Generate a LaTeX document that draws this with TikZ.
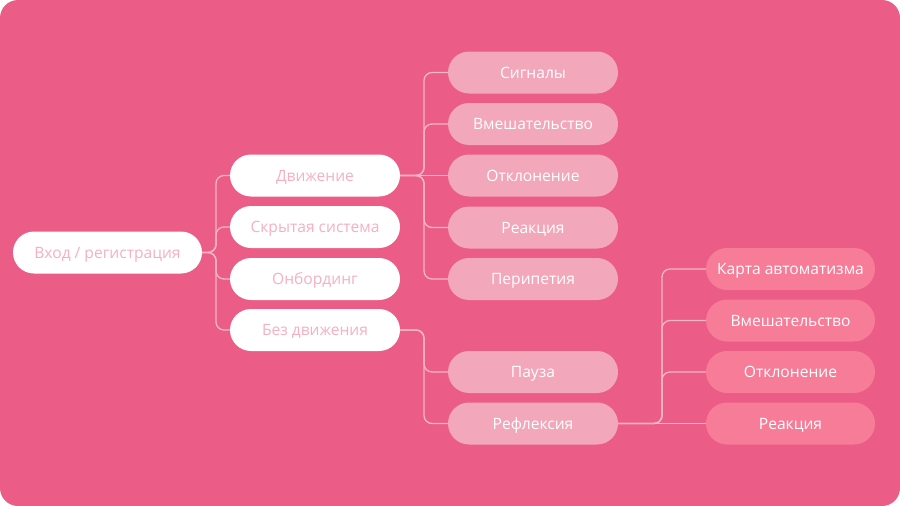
\documentclass[tikz,border=0pt]{standalone}
\usepackage{fontspec}
\setmainfont{Open Sans}
\definecolor{bgpink}{HTML}{EB5C86}
\definecolor{lvtwo}{HTML}{F2A8BA}
\definecolor{lvthree}{HTML}{F77C98}
\definecolor{softtext}{HTML}{F6B0C2}
\definecolor{linecol}{HTML}{F5B6C5}
\tikzset{
  pill/.style={rounded corners=21pt, minimum height=42pt, inner sep=0pt, text height=11.1pt, text depth=0pt, font=\fontsize{15.6}{18}\selectfont},
  whitepill/.style={pill, fill=white, text=softtext, minimum width=170pt},
  rootpill/.style={pill, fill=white, text=softtext, minimum width=189pt},
  secondpill/.style={pill, fill=lvtwo, text=white, minimum width=170pt},
  thirdpill/.style={pill, fill=lvthree, text=white, minimum width=169pt},
  link/.style={draw=linecol, line width=1.3pt, rounded corners=8pt}
}
\begin{document}
\begin{tikzpicture}[x=1pt,y=-1pt]
\useasboundingbox (0,0) rectangle (900,506);
\fill[bgpink, rounded corners=18pt] (0,0) rectangle (900,506);

\node[rootpill] (root) at (107.5,252.5) {Вход / регистрация};

\node[whitepill] (mov) at (315,175.5) {Движение};
\node[whitepill] (hid) at (315,227) {Скрытая система};
\node[whitepill] (onb) at (315,279) {Онбординг};
\node[whitepill] (nomov) at (315,330) {Без движения};

\node[secondpill] (sig) at (533,72.5) {Сигналы};
\node[secondpill] (interv) at (533,124) {Вмешательство};
\node[secondpill] (dev) at (533,175.5) {Отклонение};
\node[secondpill] (react) at (533,227.5) {Реакция};
\node[secondpill] (perip) at (533,279) {Перипетия};
\node[secondpill] (pause) at (533,372) {Пауза};
\node[secondpill] (refl) at (533,423.5) {Рефлексия};

\node[thirdpill] (map) at (790.5,269) {Карта автоматизма};
\node[thirdpill] (interv2) at (790.5,320.5) {Вмешательство};
\node[thirdpill] (dev2) at (790.5,372) {Отклонение};
\node[thirdpill] (react2) at (790.5,423.5) {Реакция};

\coordinate (busA) at (216,252.5);
\foreach \c in {mov,hid,onb,nomov}
  \draw[link] (root.east) -- (busA) |- (\c.west);

\coordinate (busB) at (424,175.5);
\foreach \c in {sig,interv,perip,react}
  \draw[link] (mov.east) -- (busB) |- (\c.west);
\draw[link] (mov.east) -- (dev.west);

\coordinate (busC) at (424,330);
\foreach \c in {pause,refl}
  \draw[link] (nomov.east) -- (busC) |- (\c.west);

\coordinate (busD) at (662,423.5);
\foreach \c in {map,interv2,dev2}
  \draw[link] (refl.east) -- (busD) |- (\c.west);
\draw[link] (refl.east) -- (react2.west);
\end{tikzpicture}
\end{document}
